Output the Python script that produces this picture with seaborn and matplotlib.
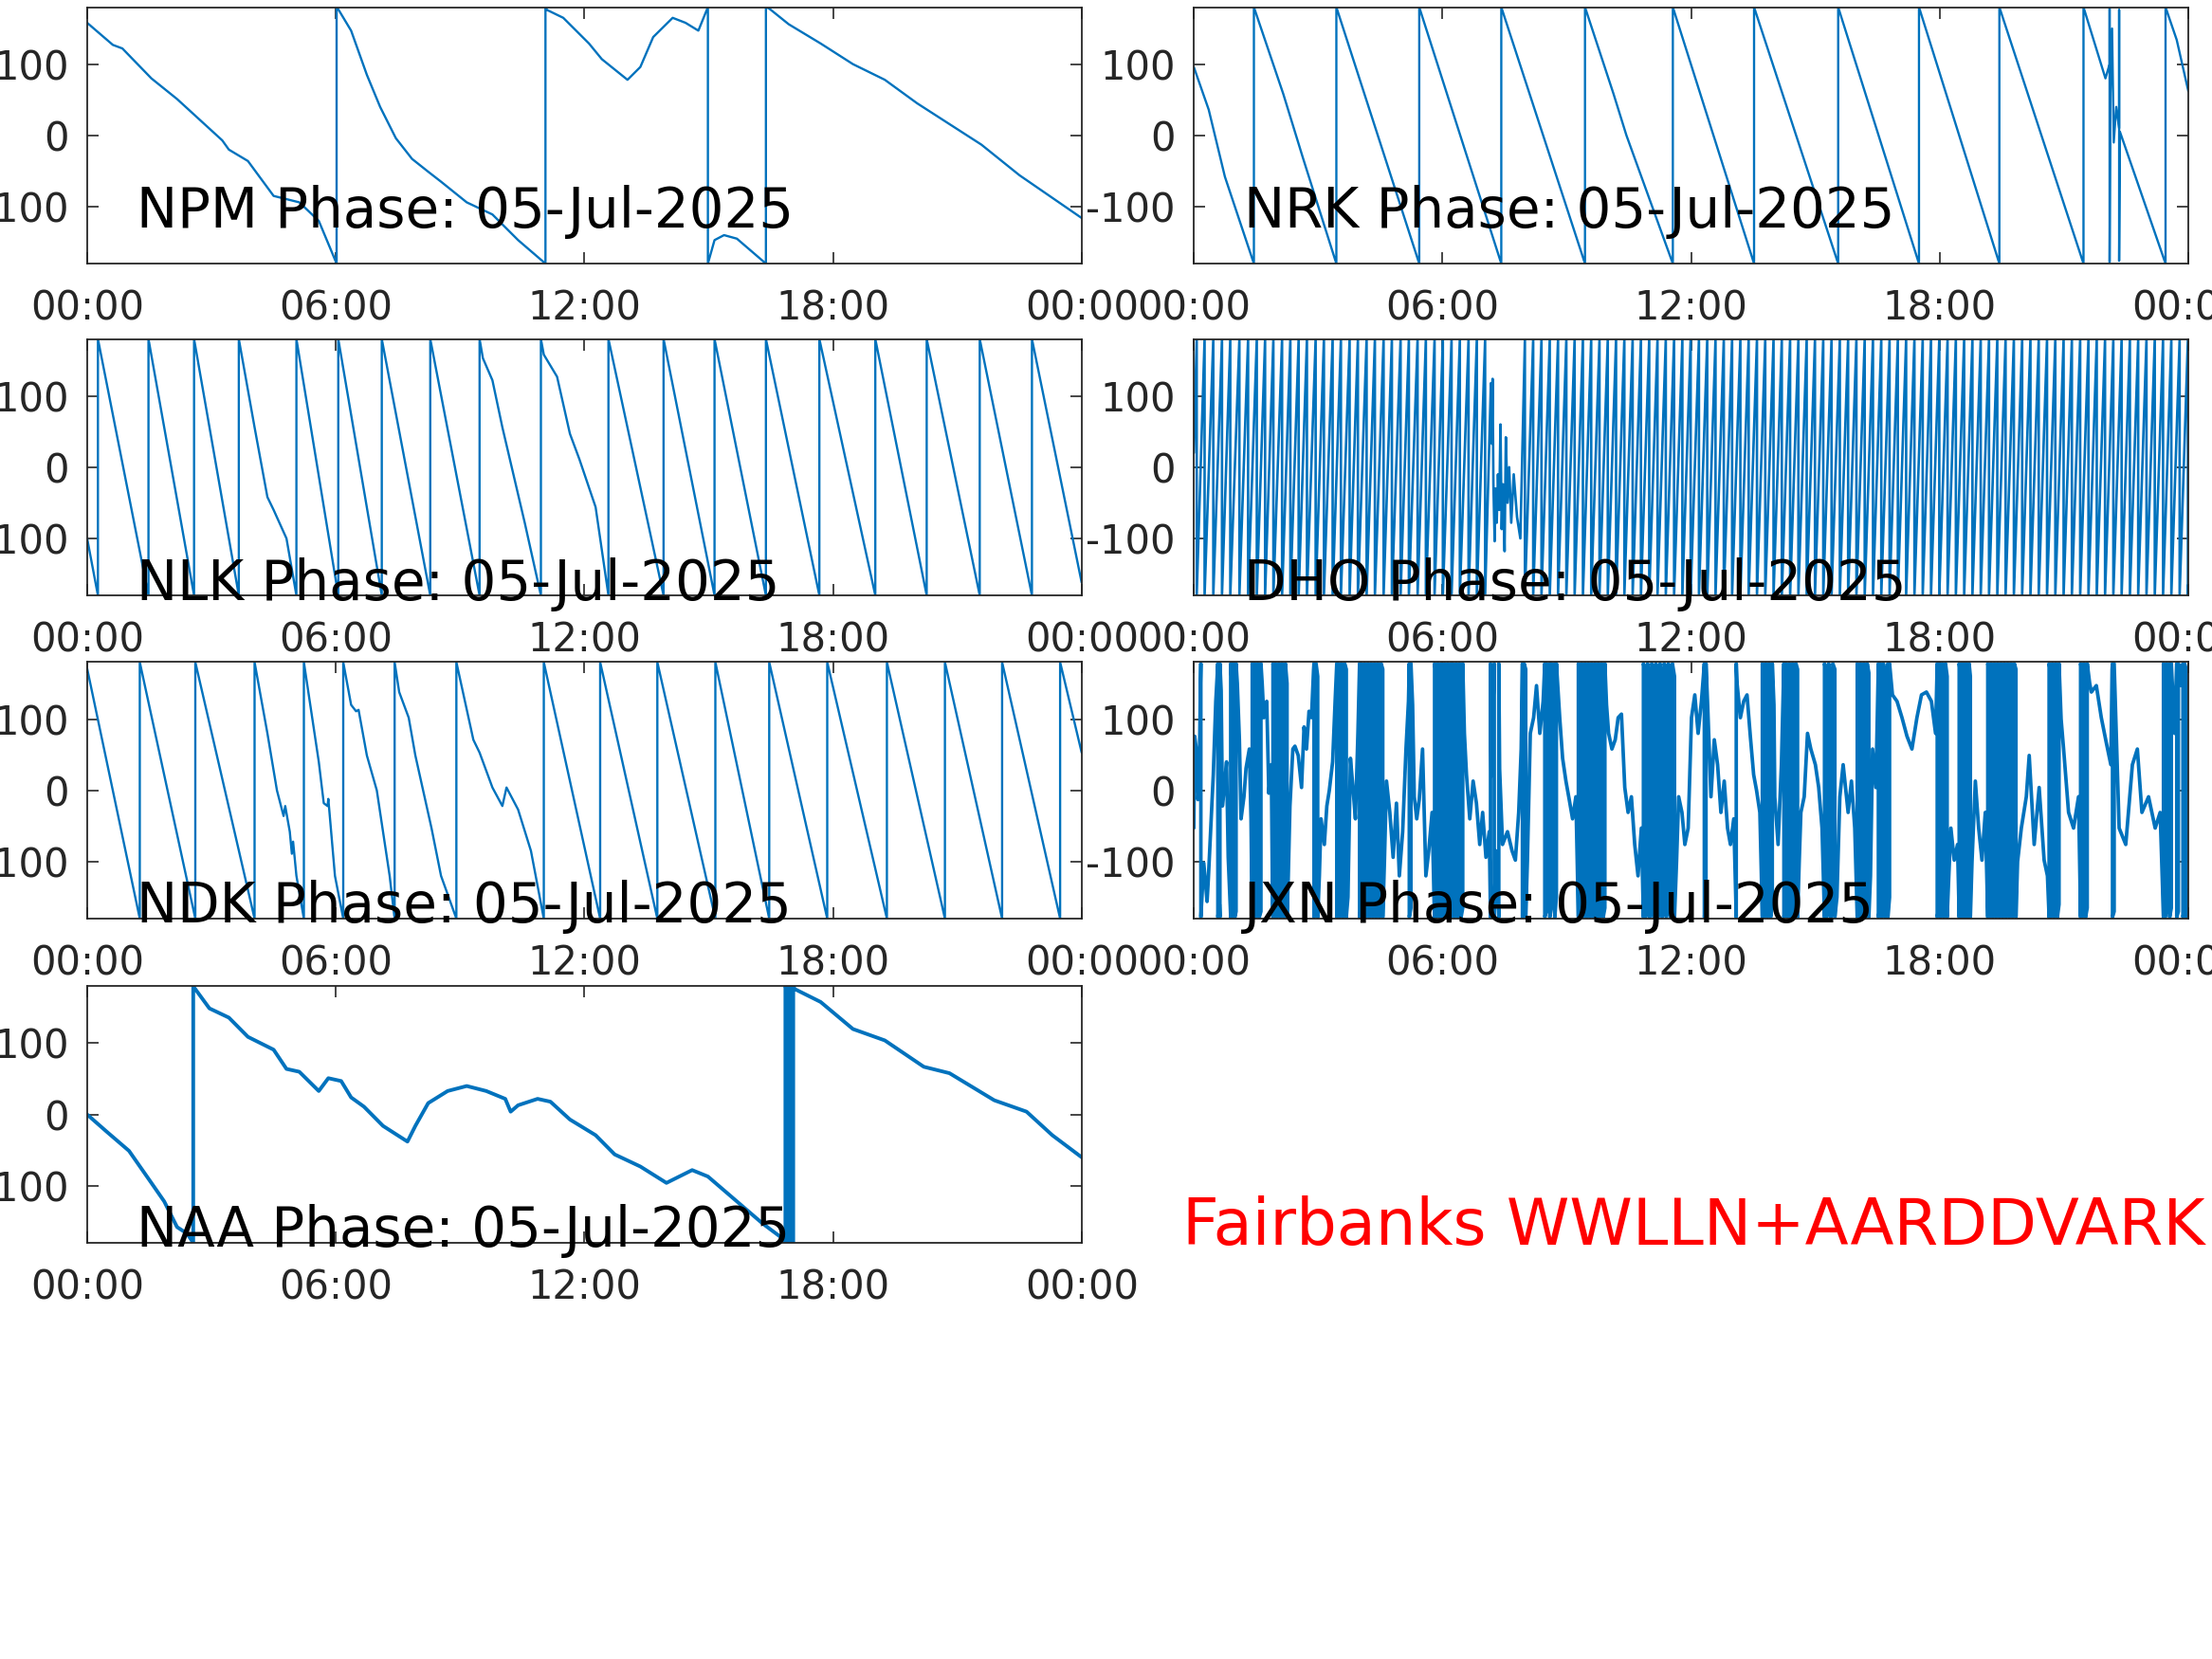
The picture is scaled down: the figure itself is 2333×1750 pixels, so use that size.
import matplotlib
matplotlib.use("Agg")
import matplotlib.pyplot as plt
import pandas as pd
import seaborn as sns

DATE = "05-Jul-2025"
HOUR_TICKS = [0, 6, 12, 18, 24]
HOUR_LABELS = ["00:00", "06:00", "12:00", "18:00", "00:00"]
PHASE_TICKS = [-100, 0, 100]
TITLE = "Fairbanks WWLLN+AARDDVARK"

# (hour, phase deg) knots; repeated hours are phase wraps
npm = [(0.0, 158), (0.62, 127), (0.85, 122), (1.55, 80), (2.17, 51), (3.26, -7), (3.42, -20),
       (3.88, -36), (4.5, -85), (5.12, -94), (5.59, -120), (6.02, -180), (6.02, 180), (6.05, 178),
       (6.37, 147), (6.75, 85), (7.07, 40), (7.45, -4), (7.84, -33), (8.23, -51), (8.54, -65),
       (9.16, -94), (9.78, -111), (10.4, -147), (11.06, -180), (11.06, 180), (11.1, 176),
       (11.49, 165), (12.11, 129), (12.42, 107), (13.04, 78), (13.35, 96), (13.66, 138),
       (14.13, 165), (14.44, 158), (14.75, 147), (14.98, 180), (14.98, -180), (15.14, -147),
       (15.37, -140), (15.68, -145), (16.38, -180), (16.38, 180), (16.46, 178), (16.93, 156),
       (17.7, 129), (18.48, 100), (19.25, 78), (20.03, 45), (21.58, -13), (22.5, -56), (24.0, -116)]

nrk = [(0.0, 96), (0.36, 36), (0.75, -58), (1.45, -180), (1.45, 180), (2.16, 58), (2.63, -31),
       (3.44, -180), (3.44, 180), (5.44, -180), (5.44, 180), (7.42, -180), (7.42, 180),
       (9.44, -180), (9.44, 180), (10.13, 58), (10.44, 0), (11.56, -180), (11.56, 180),
       (13.52, -180), (13.52, 180), (15.55, -180), (15.55, 180), (17.5, -180), (17.5, 180),
       (19.44, -180), (19.44, 180), (21.47, -180), (21.47, 180), (22.0, 80), (22.1, 100),
       (22.1, 178), (22.1, -178), (22.12, 60), (22.16, 150), (22.2, -10), (22.26, 40),
       (22.33, 10), (22.33, 176), (22.33, -176), (22.35, 5), (23.45, -180), (23.45, 180),
       (23.72, 134), (24.0, 62)]

nlk = [(0.0, -100), (0.26, -180), (0.26, 180), (1.48, -180), (1.48, 180), (2.58, -180),
       (2.58, 180), (3.66, -180), (3.66, 180), (4.04, 56), (4.35, -42), (4.5, -60), (4.81, -100),
       (5.05, -180), (5.05, 180), (6.06, -180), (6.06, 180), (7.11, -180), (7.11, 180),
       (8.28, -180), (8.28, 180), (9.47, -180), (9.47, 180), (9.55, 153), (9.78, 122),
       (10.02, 56), (10.56, -78), (10.95, -180), (10.95, 180), (11.02, 158), (11.34, 127),
       (11.65, 47), (11.88, 11), (12.27, -56), (12.58, -180), (12.58, 180), (13.91, -180),
       (13.91, 180), (15.14, -180), (15.14, 180), (16.38, -180), (16.38, 180), (17.67, -180),
       (17.67, 180), (19.02, -180), (19.02, 180), (20.26, -180), (20.26, 180), (21.54, -180),
       (21.54, 180), (22.8, -180), (22.8, 180), (24.0, -162)]

ndk = [(0.0, 171), (1.27, -180), (1.27, 180), (2.61, -180), (2.61, 180), (4.04, -180),
       (4.04, 180), (4.35, 80), (4.58, 0), (4.74, -36), (4.78, -22), (4.89, -58), (4.94, -89),
       (4.97, -72), (5.05, -120), (5.23, -180), (5.23, 180), (5.59, 40), (5.71, -18), (5.8, -22),
       (5.82, -12), (5.98, -120), (6.18, -180), (6.18, 180), (6.37, 120), (6.49, 111),
       (6.55, 113), (6.75, 49), (6.99, 0), (7.3, -120), (7.42, -180), (7.42, 180), (7.53, 138),
       (7.76, 102), (7.92, 49), (8.31, -53), (8.54, -120), (8.91, -180), (8.91, 180), (9.32, 71),
       (9.47, 53), (9.78, 4), (10.02, -22), (10.12, 4), (10.4, -27), (10.71, -85), (11.02, -180),
       (11.02, 180), (12.38, -180), (12.38, 180), (13.76, -180), (13.76, 180), (15.16, -180),
       (15.16, 180), (16.46, -180), (16.46, 180), (17.86, -180), (17.86, 180), (19.3, -180),
       (19.3, 180), (20.7, -180), (20.7, 180), (22.08, -180), (22.08, 180), (23.48, -180),
       (23.48, 180), (24.0, 53)]

naa = [(0.0, 0), (0.47, -24), (1.01, -51), (1.55, -96), (1.86, -122), (2.17, -158),
       (2.41, -167), (2.56, -180), (2.56, 180), (2.95, 149), (3.42, 136), (3.88, 109),
       (4.5, 91), (4.81, 64), (5.12, 60), (5.59, 33), (5.82, 51), (6.13, 47), (6.37, 24),
       (6.68, 11), (7.14, -16), (7.73, -38), (7.92, -16), (8.23, 16), (8.7, 33), (9.16, 40),
       (9.63, 33), (10.09, 22), (10.22, 4), (10.4, 13), (10.87, 22), (11.18, 18), (11.65, -7),
       (12.27, -29), (12.73, -56), (13.35, -73), (13.98, -96), (14.6, -78), (14.98, -87),
       (15.68, -122), (16.3, -153), (16.83, -176), (16.85, -180), (16.85, 180), (16.88, 176),
       (16.88, -180), (16.9, -178), (16.9, 180), (16.95, 178), (16.95, -180), (16.97, -179),
       (16.97, 180), (17.02, 178), (17.02, -180), (17.04, -179), (17.04, 180), (17.08, 176),
       (17.7, 158), (18.48, 120), (19.25, 104), (20.19, 67), (20.81, 58), (21.89, 20),
       (22.67, 4), (23.29, -29), (24.0, -60)]

# DHO: slow rise then wrap, hours of each wrap
dho_start = (0.0, 20)
dho_wraps_early = [0.07, 0.26, 0.47, 0.68, 0.88, 1.10, 1.31, 1.52, 1.72, 1.92, 2.13, 2.33, 2.53,
                   2.73, 2.94, 3.14, 3.35, 3.55, 3.76, 3.96, 4.17, 4.37, 4.58, 4.78, 4.99, 5.19,
                   5.40, 5.60, 5.81, 6.01, 6.22, 6.42, 6.63, 6.83, 7.03]
dho_gap = [(7.17, 118), (7.19, 33), (7.21, 124), (7.23, -24), (7.26, -104), (7.28, -30),
           (7.31, -78), (7.34, -10), (7.37, -60), (7.40, 60), (7.43, -87), (7.46, -24),
           (7.50, -118), (7.53, 42), (7.57, -50), (7.61, 0), (7.66, -78), (7.72, -10),
           (7.80, -70), (7.88, -100)]
dho_wraps_late = [7.99, 8.19, 8.39, 8.59, 8.79, 8.99, 9.19, 9.39, 9.59, 9.79, 9.99, 10.19,
                  10.39, 10.59, 10.79, 10.99, 11.19, 11.39, 11.59, 11.79, 11.99, 12.19, 12.39,
                  12.59, 12.79, 12.99, 13.19, 13.39, 13.59, 13.79, 13.99, 14.19, 14.39, 14.59,
                  14.79, 14.99, 15.19, 15.39, 15.59, 15.79, 15.99, 16.19, 16.39, 16.59, 16.79,
                  16.99, 17.19, 17.39, 17.59, 17.79, 17.99, 18.19, 18.39, 18.59, 18.79, 18.99,
                  19.19, 19.39, 19.59, 19.79, 19.99, 20.19, 20.39, 20.59, 20.79, 20.99, 21.19,
                  21.39, 21.59, 21.79, 21.99, 22.19, 22.39, 22.59, 22.79, 22.99, 23.19, 23.39,
                  23.59, 23.79, 23.99]
dho_end = (24.0, -165)

jxn = [(0.00, -53), (0.02, 76), (0.06, 58), (0.10, -13), (0.13, 13), (0.16, 150), (0.17, 178),
       (0.17, -178), (0.24, -102), (0.32, -156), (0.35, -125), (0.42, -40), (0.47, 22),
       (0.53, 125), (0.58, 178), (0.58, -178), (0.62, -160), (0.63, -178), (0.63, 178),
       (0.66, 140), (0.69, -22), (0.73, 0), (0.79, 40), (0.83, -94), (0.87, -150), (0.89, -178),
       (0.89, 178), (0.91, 160), (0.91, -178), (0.93, -165), (0.93, 178), (0.95, 170),
       (0.95, -178), (0.97, -170), (0.97, 178), (0.99, 165), (0.99, -178), (1.02, -170),
       (1.02, 178), (1.05, 150), (1.10, 71), (1.14, -40), (1.21, -9), (1.26, 31), (1.34, 58),
       (1.38, -40), (1.40, -150), (1.41, -178), (1.41, 178), (1.44, 165), (1.44, -178),
       (1.47, -165), (1.47, 178), (1.50, 170), (1.50, -178), (1.54, -160), (1.54, 178),
       (1.58, 160), (1.58, -178), (1.62, -170), (1.62, 178), (1.65, 150), (1.69, 102),
       (1.76, 125), (1.81, -4), (1.87, 36), (1.90, -160), (1.91, -178), (1.91, 178), (1.94, 170),
       (1.94, -178), (1.97, -160), (1.97, 178), (2.01, 160), (2.01, -178), (2.05, -170),
       (2.05, 178), (2.09, 165), (2.09, -178), (2.13, -160), (2.13, 178), (2.17, 165),
       (2.17, -178), (2.21, -170), (2.21, 178), (2.25, 150), (2.25, -178), (2.28, -120),
       (2.32, -22), (2.39, 58), (2.44, 62), (2.52, 49), (2.60, 4), (2.66, 89), (2.72, 58),
       (2.78, 111), (2.84, 102), (2.89, 169), (2.90, 178), (2.90, -178), (2.95, -165),
       (2.95, 178), (2.99, 160), (2.99, -178), (3.03, -120), (3.07, -40), (3.15, -76),
       (3.21, -22), (3.27, 0), (3.35, 40), (3.41, 125), (3.45, 178), (3.45, -178), (3.48, -165),
       (3.48, 178), (3.52, 170), (3.52, -178), (3.56, -170), (3.56, 178), (3.60, 160),
       (3.60, -178), (3.64, -160), (3.64, 178), (3.68, 170), (3.68, -178), (3.72, -150),
       (3.78, 45), (3.84, 4), (3.90, -40), (3.96, 80), (4.00, 178), (4.00, -178), (4.04, -165),
       (4.04, 178), (4.08, 170), (4.08, -178), (4.12, -160), (4.12, 178), (4.16, 165),
       (4.16, -178), (4.20, -170), (4.20, 178), (4.24, 160), (4.24, -178), (4.28, -165),
       (4.28, 178), (4.32, 170), (4.32, -178), (4.36, -160), (4.36, 178), (4.40, 165),
       (4.40, -178), (4.44, -170), (4.44, 178), (4.48, 160), (4.48, -178), (4.52, -165),
       (4.52, 178), (4.56, 170), (4.56, -178), (4.60, -100), (4.65, 13), (4.73, -31),
       (4.81, -94), (4.89, -18), (4.96, -120), (5.04, -58), (5.12, 58), (5.18, 125), (5.20, 178),
       (5.20, -178), (5.24, -165), (5.24, 178), (5.28, 120), (5.32, -9), (5.38, -40),
       (5.44, -13), (5.52, 58), (5.60, -120), (5.67, -85), (5.75, -31), (5.80, -160),
       (5.81, -178), (5.81, 178), (5.85, 165), (5.85, -178), (5.89, -170), (5.89, 178),
       (5.93, 160), (5.93, -178), (5.97, -165), (5.97, 178), (6.01, 170), (6.01, -178),
       (6.05, -160), (6.05, 178), (6.09, 165), (6.09, -178), (6.13, -170), (6.13, 178),
       (6.17, 70), (6.21, 178), (6.21, -178), (6.25, -165), (6.25, 178), (6.29, 160),
       (6.29, -178), (6.33, -170), (6.33, 178), (6.37, 165), (6.37, -178), (6.41, -160),
       (6.41, 178), (6.45, 170), (6.45, -178), (6.49, -165), (6.49, 178), (6.53, 80),
       (6.58, 22), (6.66, -40), (6.74, 13), (6.82, -18), (6.90, -76), (6.97, -31), (7.05, -94),
       (7.13, -58), (7.16, -178), (7.16, 178), (7.18, 20), (7.25, 178), (7.25, -178),
       (7.29, -85), (7.36, -178), (7.36, 178), (7.38, 30), (7.45, -76), (7.57, -58),
       (7.68, -85), (7.76, -98), (7.84, -31), (7.90, 58), (7.93, 178), (7.93, -178),
       (7.97, -165), (7.97, 178), (8.01, 170), (8.01, -178), (8.05, -100), (8.12, 80),
       (8.20, 102), (8.27, 147), (8.35, 80), (8.43, 125), (8.47, 178), (8.47, -178),
       (8.51, -170), (8.51, 178), (8.55, 140), (8.59, 178), (8.59, -178), (8.63, -165),
       (8.63, 178), (8.67, 120), (8.71, 178), (8.71, -178), (8.75, -150), (8.75, 178),
       (8.80, 130), (8.83, 102), (8.90, 45), (8.98, 13), (9.06, -13), (9.14, -40), (9.22, -9),
       (9.28, -178), (9.28, 178), (9.32, 165), (9.32, -178), (9.36, -170), (9.36, 178),
       (9.40, 160), (9.40, -178), (9.44, -165), (9.44, 178), (9.48, 170), (9.48, -178),
       (9.52, -160), (9.52, 178), (9.56, 165), (9.56, -178), (9.60, -170), (9.60, 178),
       (9.64, 160), (9.64, -178), (9.68, -165), (9.68, 178), (9.72, 170), (9.72, -178),
       (9.76, -160), (9.76, 178), (9.80, 165), (9.80, -178), (9.84, -170), (9.84, 178),
       (9.88, 160), (9.88, -178), (9.92, -165), (9.92, 178), (9.96, 120), (10.01, 80),
       (10.09, 58), (10.17, 71), (10.24, 102), (10.32, 107), (10.40, 4), (10.48, -31),
       (10.56, -9), (10.64, -76), (10.72, -120), (10.80, -53), (10.85, -178), (10.85, 178),
       (10.90, 165), (10.90, -178), (10.95, -170), (10.95, 178), (11.00, 160), (11.00, -178),
       (11.05, -165), (11.05, 178), (11.10, 170), (11.10, -178), (11.15, -160), (11.15, 178),
       (11.20, 165), (11.20, -178), (11.25, -170), (11.25, 178), (11.30, 160), (11.30, -178),
       (11.35, -165), (11.35, 178), (11.40, 170), (11.40, -178), (11.45, -160), (11.45, 178),
       (11.50, 165), (11.50, -178), (11.55, -170), (11.55, 178), (11.60, 160), (11.60, -178),
       (11.65, -100), (11.70, -9), (11.78, -31), (11.85, -76), (11.93, -53), (12.01, 102),
       (12.09, 134), (12.17, 80), (12.25, 125), (12.32, 178), (12.32, -178), (12.36, -165),
       (12.36, 178), (12.40, 120), (12.48, -9), (12.56, 71), (12.64, 36), (12.72, -31),
       (12.80, 13), (12.88, -53), (12.95, -76), (13.03, -40), (13.09, -178), (13.09, 178),
       (13.11, 150), (13.19, 102), (13.27, 125), (13.35, 134), (13.43, 76), (13.51, 22),
       (13.58, 0), (13.66, -31), (13.72, -178), (13.72, 178), (13.76, 165), (13.76, -178),
       (13.80, -170), (13.80, 178), (13.84, 160), (13.84, -178), (13.88, -165), (13.88, 178),
       (13.92, 170), (13.92, -178), (13.96, -160), (13.96, 178), (14.00, 120), (14.02, -9),
       (14.10, -76), (14.18, 36), (14.24, 178), (14.24, -178), (14.29, -165), (14.29, 178),
       (14.33, 170), (14.33, -178), (14.37, -160), (14.37, 178), (14.41, 165), (14.41, -178),
       (14.45, -170), (14.45, 178), (14.49, 160), (14.49, -178), (14.53, -165), (14.53, 178),
       (14.57, 170), (14.57, -178), (14.61, -100), (14.65, -31), (14.73, -9), (14.81, 80),
       (14.89, 58), (15.00, 36), (15.08, 4), (15.16, -53), (15.22, -178), (15.22, 178),
       (15.27, 165), (15.27, -178), (15.32, -170), (15.32, 178), (15.37, 160), (15.37, -178),
       (15.42, -165), (15.42, 178), (15.47, 170), (15.47, -178), (15.52, -150), (15.59, -9),
       (15.67, 36), (15.79, -31), (15.87, 13), (15.95, -53), (16.01, -178), (16.01, 178),
       (16.05, 165), (16.05, -178), (16.09, -170), (16.09, 178), (16.13, 160), (16.13, -178),
       (16.17, -165), (16.17, 178), (16.21, 170), (16.21, -178), (16.25, -160), (16.25, 178),
       (16.29, 165), (16.29, -178), (16.33, -120), (16.38, 58), (16.46, 4), (16.52, 178),
       (16.52, -178), (16.56, -165), (16.56, 178), (16.60, 170), (16.60, -178), (16.64, -160),
       (16.64, 178), (16.68, 165), (16.68, -178), (16.72, -140), (16.75, 178), (16.75, -178),
       (16.79, -150), (16.79, 178), (16.86, 134), (16.97, 125), (17.09, 102), (17.21, 76),
       (17.33, 58), (17.45, 102), (17.56, 134), (17.68, 138), (17.80, 125), (17.90, 80),
       (17.94, 178), (17.94, -178), (17.98, -165), (17.98, 178), (18.02, 170), (18.02, -178),
       (18.06, -160), (18.06, 178), (18.10, 165), (18.10, -178), (18.14, -170), (18.14, 178),
       (18.18, 160), (18.18, -178), (18.22, -120), (18.27, -53), (18.35, -98), (18.43, -76),
       (18.47, -178), (18.47, 178), (18.50, 165), (18.50, -178), (18.53, -170), (18.53, 178),
       (18.56, 160), (18.56, -178), (18.59, -165), (18.59, 178), (18.62, 170), (18.62, -178),
       (18.65, -160), (18.65, 178), (18.68, 165), (18.68, -178), (18.71, -170), (18.71, 178),
       (18.74, 160), (18.74, -178), (18.78, -100), (18.86, 13), (18.94, -53), (19.02, -98),
       (19.10, -31), (19.16, -178), (19.16, 178), (19.20, 165), (19.20, -178), (19.24, -170),
       (19.24, 178), (19.28, 160), (19.28, -178), (19.32, -165), (19.32, 178), (19.36, 170),
       (19.36, -178), (19.40, -160), (19.40, 178), (19.44, 165), (19.44, -178), (19.48, -170),
       (19.48, 178), (19.52, 160), (19.52, -178), (19.56, -165), (19.56, 178), (19.60, 170),
       (19.60, -178), (19.64, -160), (19.64, 178), (19.68, 165), (19.68, -178), (19.72, -170),
       (19.72, 178), (19.76, 160), (19.76, -178), (19.80, -165), (19.80, 178), (19.84, 170),
       (19.84, -178), (19.88, -100), (19.97, -53), (20.09, -9), (20.16, 49), (20.28, -76),
       (20.40, 4), (20.52, -98), (20.60, -120), (20.64, -178), (20.64, 178), (20.68, 165),
       (20.68, -178), (20.72, -170), (20.72, 178), (20.76, 160), (20.76, -178), (20.80, -165),
       (20.80, 178), (20.84, 170), (20.84, -178), (20.88, -160), (20.88, 178), (20.93, 100),
       (20.99, 58), (21.11, -31), (21.23, -53), (21.35, -9), (21.40, -178), (21.40, 178),
       (21.44, 165), (21.44, -178), (21.48, -170), (21.48, 178), (21.52, 160), (21.52, -178),
       (21.56, -165), (21.56, 178), (21.62, 150), (21.66, 138), (21.78, 147), (21.90, 102),
       (22.02, 67), (22.13, 36), (22.16, 170), (22.17, 178), (22.17, -178), (22.21, -170),
       (22.21, 178), (22.25, 100), (22.33, -53), (22.49, -76), (22.65, 36), (22.77, 58),
       (22.88, -31), (23.04, -9), (23.20, -53), (23.32, -31), (23.40, -178), (23.40, 178),
       (23.44, 165), (23.44, -178), (23.48, -170), (23.48, 178), (23.51, 125), (23.55, 178),
       (23.55, -178), (23.59, -165), (23.59, 178), (23.67, 80), (23.72, 178), (23.72, -178),
       (23.76, -170), (23.76, 178), (23.83, 147), (23.87, 178), (23.87, -178), (23.91, -165),
       (23.91, 178), (23.95, 170), (23.95, -178), (24.0, -140)]


def knots_frame(knots):
    hours, phase = zip(*knots)
    return pd.DataFrame({"hour": hours, "phase": phase})


def rising_sawtooth(start, wraps_a, middle, wraps_b, end):
    pts = [start]
    for w in wraps_a:
        pts += [(w, 180), (w, -180)]
    pts += middle
    for w in wraps_b:
        pts += [(w, 180), (w, -180)]
    pts.append(end)
    return knots_frame(pts)


dho = rising_sawtooth(dho_start, dho_wraps_early, dho_gap, dho_wraps_late, dho_end)

sns.set_theme(style="ticks", rc={"axes.unicode_minus": False})
plt.rcParams["font.family"] = ["DejaVu Sans"]

fig = plt.figure(figsize=(23.33, 17.5), dpi=100)

left_x, right_x, width = 0.0394, 0.5397, 0.4496
row_bottoms = [0.8411, 0.6411, 0.4463, 0.2509]
height = 0.1546

panels = [
    ("NPM", knots_frame(npm), left_x, 0, 1.7),
    ("NRK", knots_frame(nrk), right_x, 0, 1.7),
    ("NLK", knots_frame(nlk), left_x, 1, 1.7),
    ("DHO", dho, right_x, 1, 1.9),
    ("NDK", knots_frame(ndk), left_x, 2, 1.7),
    ("JXN", knots_frame(jxn), right_x, 2, 2.7),
    ("NAA", knots_frame(naa), left_x, 3, 2.8),
]

line_color = "#0072BD"
dark = "#262626"

for name, df, x0, row, lw in panels:
    ax = fig.add_axes([x0, row_bottoms[row], width, height])
    sns.lineplot(data=df, x="hour", y="phase", sort=False, estimator=None,
                 color=line_color, linewidth=lw, ax=ax)
    ax.set_xlim(0, 24)
    ax.set_ylim(-180, 180)
    ax.set_xticks(HOUR_TICKS)
    ax.set_xticklabels(HOUR_LABELS)
    ax.set_yticks(PHASE_TICKS)
    ax.set_yticklabels([str(v) for v in PHASE_TICKS])
    ax.set_xlabel("")
    ax.set_ylabel("")
    ax.tick_params(axis="both", direction="in", length=8.5, width=1.2, colors=dark,
                   labelsize=30, top=True, right=True)
    ax.tick_params(axis="x", pad=19)
    ax.tick_params(axis="y", pad=14)
    for sp in ax.spines.values():
        sp.set_visible(True)
        sp.set_color(dark)
        sp.set_linewidth(1.3)
    label_y = -107 if row == 0 else -164
    ax.text(0.05, label_y, f"{name} Phase: {DATE}", transform=ax.get_yaxis_transform(),
            fontsize=41.7, color="black", va="center", ha="left")

fig.text(0.5345, 0.2608, TITLE, color="red", fontsize=48.4, va="center", ha="left")

fig.savefig("out.png", dpi=100)
